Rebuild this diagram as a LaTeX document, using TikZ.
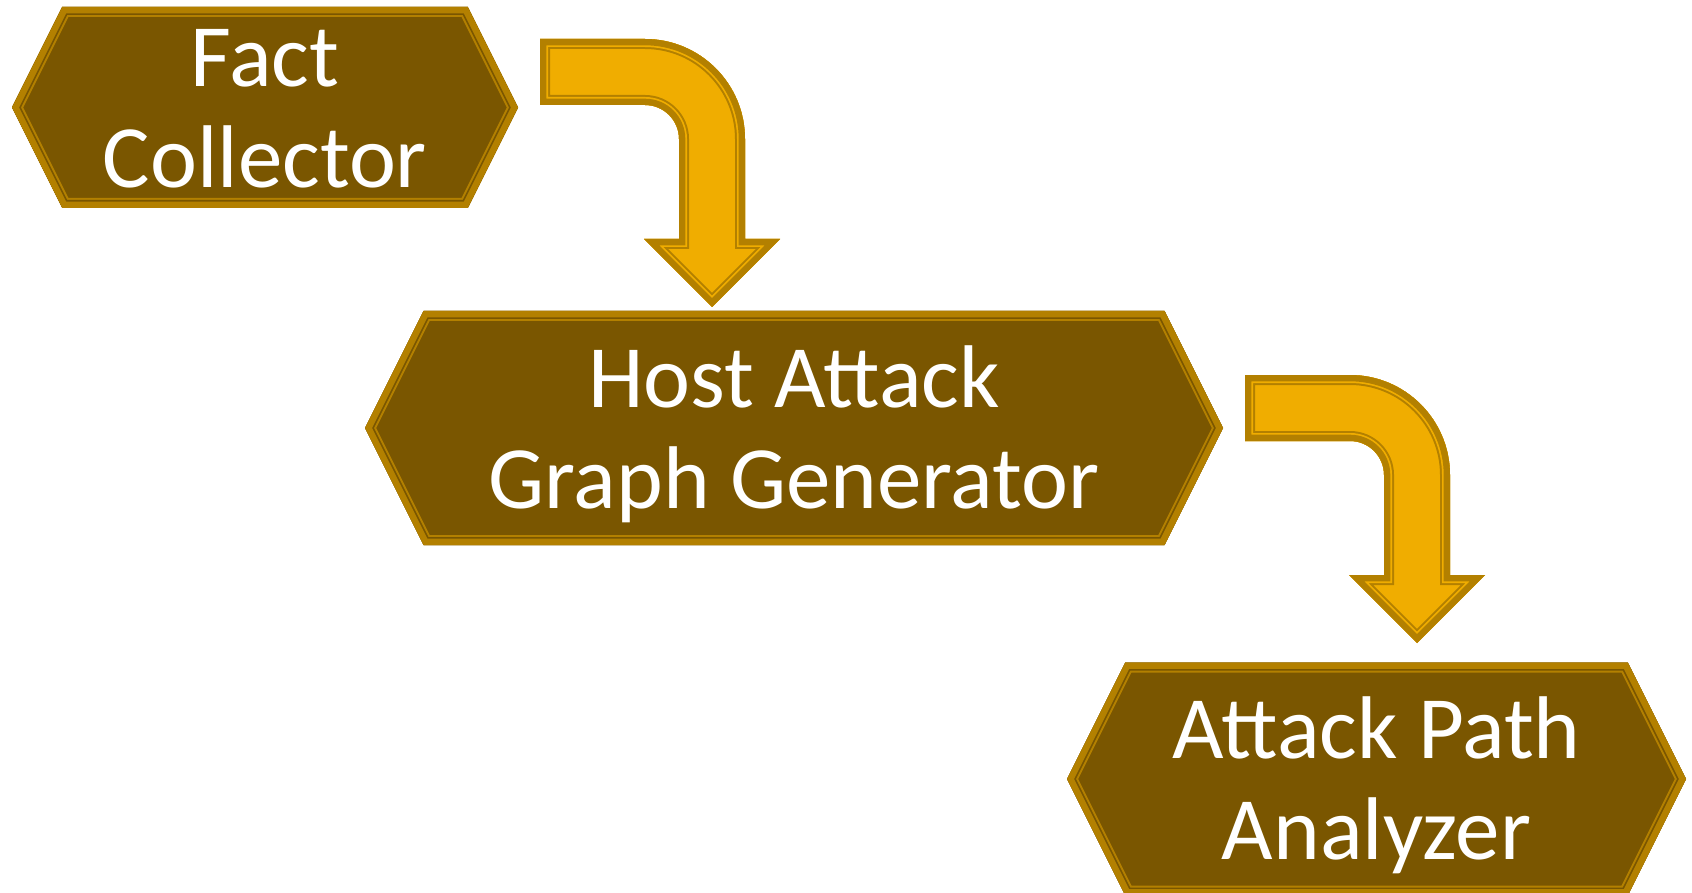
\documentclass[tikz,border=0pt]{standalone}
\usepackage{fontspec}
\setmainfont{Carlito}

\definecolor{bandgold}{RGB}{179,128,0}
\definecolor{hexbrown}{RGB}{122,86,0}
\definecolor{arrowamber}{RGB}{240,173,0}

% struts that fix the height of the first line and the depth of the last one
\newcommand\topstrut{\rule{0pt}{81pt}}
\newcommand\botstrut{\rule[-22pt]{0pt}{22pt}}

% filled outline with a thick gold band, a thin gap and a thin gold line inside
\newcommand\goldframe[2]{%
  \begin{scope}
    \clip #2;
    \fill[#1] #2;
    \draw[frame outer] #2;
    \draw[frame gap=#1] #2;
    \draw[frame band] #2;
  \end{scope}}

% hexagonal block: name, centre x, centre y, half width, half height, text
\newcommand\hexblock[6]{%
  \coordinate (#1-L)  at ({#2-#4},#3);
  \coordinate (#1-TL) at ({#2-#4+#5/2},{#3-#5});
  \coordinate (#1-TR) at ({#2+#4-#5/2},{#3-#5});
  \coordinate (#1-R)  at ({#2+#4},#3);
  \coordinate (#1-BR) at ({#2+#4-#5/2},{#3+#5});
  \coordinate (#1-BL) at ({#2-#4+#5/2},{#3+#5});
  \goldframe{hexbrown}{(#1-L) -- (#1-TL) -- (#1-TR) -- (#1-R) -- (#1-BR) -- (#1-BL) -- cycle}
  \node[block text] (#1) at (#2,#3) {\topstrut #6\botstrut};}

\tikzset{
  frame outer/.style={draw=bandgold, line width=20pt, line join=miter},
  frame gap/.style={draw=#1, line width=16pt, line join=miter},
  frame band/.style={draw=bandgold, line width=12.6pt, line join=miter},
  block text/.style={text=white, align=center, inner sep=0pt,
    font=\fontsize{89}{101}\selectfont},
  pics/bent arrow/.style={code={%
    \goldframe{arrowamber}{(-105,-100) -- (0,-100)
      arc[start angle=-90, end angle=0, radius=100] -- (100,100)
      -- (135,100) -- (67,168) -- (-1,100) -- (34,100) -- (34,0)
      arc[start angle=0, end angle=-90, radius=34] -- (-105,-34) -- cycle}}}
}

\begin{document}
\begin{tikzpicture}[x=1pt, y=-1pt]
  \useasboundingbox (0,0) rectangle (1692,893);

  \hexblock{fact}{265}{107.5}{253}{100.5}{Fact\\Collector}
  \hexblock{host}{794}{428}{429}{117}{Host Attack\\Graph Generator}
  \hexblock{path}{1376.5}{779}{309.5}{116.5}{Attack Path\\Analyzer}

  \pic at (645,139) {bent arrow};
  \pic at (1350,475) {bent arrow};
\end{tikzpicture}
\end{document}
